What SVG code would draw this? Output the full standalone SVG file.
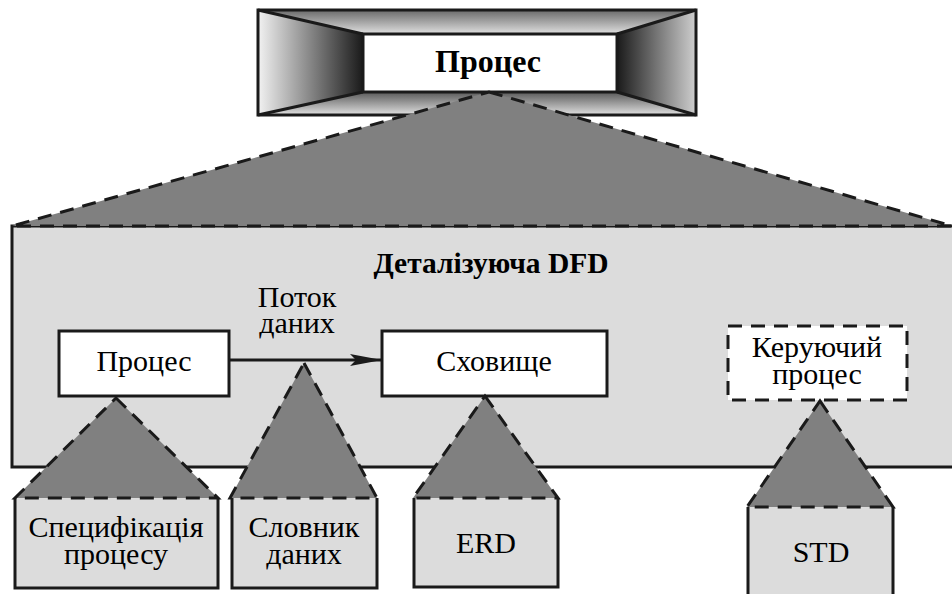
<svg xmlns="http://www.w3.org/2000/svg" width="952" height="594" viewBox="0 0 952 594" font-family="Liberation Serif, Times New Roman, serif">
<style>
  text { font-family: 'Liberation Serif', 'Times New Roman', serif; }
  .t { font-size: 30px; fill: #000; text-anchor: middle; }
  .b { font-weight: bold; fill: #000; text-anchor: middle; }
  .tri { fill: #808080; stroke: #1a1a1a; stroke-width: 3; stroke-dasharray: 14 9; stroke-linejoin: miter; }
  .box { fill: #dcdcdc; stroke: #1a1a1a; stroke-width: 3; }
  .node { fill: #ffffff; stroke: #1a1a1a; stroke-width: 3; }
  .edge { fill: none; stroke: #1a1a1a; stroke-width: 3; }
</style>
<defs>
  <linearGradient id="gL" x1="258" y1="0" x2="363" y2="0" gradientUnits="userSpaceOnUse">
    <stop offset="0" stop-color="#f2f2f2"/><stop offset="1" stop-color="#1a1a1a"/>
  </linearGradient>
  <linearGradient id="gR" x1="617" y1="0" x2="696" y2="0" gradientUnits="userSpaceOnUse">
    <stop offset="0" stop-color="#1a1a1a"/><stop offset="1" stop-color="#cfcfcf"/>
  </linearGradient>
  <linearGradient id="gT" x1="0" y1="10" x2="0" y2="34" gradientUnits="userSpaceOnUse">
    <stop offset="0" stop-color="#6a6a6a"/><stop offset="1" stop-color="#e0e0e0"/>
  </linearGradient>
  <linearGradient id="gB" x1="0" y1="92" x2="0" y2="115" gradientUnits="userSpaceOnUse">
    <stop offset="0" stop-color="#5a5a5a"/><stop offset="1" stop-color="#e0e0e0"/>
  </linearGradient>
  <marker id="arr" markerWidth="32" markerHeight="14" refX="32" refY="7" orient="auto" markerUnits="userSpaceOnUse">
    <path d="M0,1 L32,7 L0,13 L6,7 Z" fill="#1a1a1a"/>
  </marker>
</defs>

<!-- DFD container -->
<g id="dfd">
  <rect x="12" y="226" width="950" height="241" class="box"/>
  <text class="b" x="491" y="273" font-size="29.5">Деталізуюча DFD</text>
</g>

<!-- Top process box -->
<g id="top-process">
  <rect x="258" y="10" width="438" height="105" fill="#888"/>
  <polygon points="258,10 363,34 363,92 258,115" fill="url(#gL)"/>
  <polygon points="696,10 617,34 617,92 696,115" fill="url(#gR)"/>
  <polygon points="258,10 696,10 617,34 363,34" fill="url(#gT)"/>
  <polygon points="363,92 617,92 696,115 258,115" fill="url(#gB)"/>
  <path d="M258,10 L363,34 M696,10 L617,34 M258,115 L363,92 M696,115 L617,92" class="edge" stroke-width="2.5"/>
  <rect x="258" y="10" width="438" height="105" fill="none" stroke="#1a1a1a" stroke-width="3"/>
  <rect x="363" y="34" width="254" height="58" class="node"/>
  <text class="b" x="488" y="72" font-size="32">Процес</text>
</g>

<!-- Decomposition triangle from top process -->
<g id="decomp-top">
  <polygon points="489,92 952,226 12,226" class="tri"/>
</g>

<!-- Inner DFD nodes -->
<g id="process">
  <rect x="59" y="331" width="170" height="65" class="node"/>
  <text class="t" x="144" y="371">Процес</text>
</g>
<g id="store">
  <rect x="382" y="331" width="225" height="65" class="node"/>
  <text class="t" x="494" y="371">Сховище</text>
</g>
<g id="control-process">
  <rect x="728" y="326" width="179" height="74" fill="#fff" stroke="#1a1a1a" stroke-width="3" stroke-dasharray="14 9"/>
  <text class="t" x="817" y="357">Керуючий</text>
  <text class="t" x="817" y="384">процес</text>
</g>

<!-- Connectors -->
<g id="connectors">
  <line x1="229" y1="360" x2="382" y2="360" class="edge" marker-end="url(#arr)"/>
  <text class="t" x="297" y="307">Поток</text>
  <text class="t" x="297" y="333">даних</text>
</g>

<!-- Bottom spec boxes -->
<g id="spec">
  <path d="M15,498 L15,588 L218,588 L218,498 Z" fill="#dcdcdc"/>
  <path d="M15,498 L15,588 L218,588 L218,498" class="edge"/>
  <polygon points="116,398 218,498 15,498" class="tri"/>
  <text class="t" x="116" y="537">Специфікація</text>
  <text class="t" x="116" y="564">процесу</text>
</g>
<g id="dictionary">
  <path d="M232,498 L232,588 L377,588 L377,498 Z" fill="#dcdcdc"/>
  <path d="M232,498 L232,588 L377,588 L377,498" class="edge"/>
  <polygon points="304,363 377,498 230,498" class="tri"/>
  <text class="t" x="304" y="537">Словник</text>
  <text class="t" x="304" y="564">даних</text>
</g>
<g id="erd">
  <path d="M414,498 L414,587 L558,587 L558,498 Z" fill="#dcdcdc"/>
  <path d="M414,498 L414,587 L558,587 L558,498" class="edge"/>
  <polygon points="485,396 558,498 413,498" class="tri"/>
  <text class="t" x="486" y="553">ERD</text>
</g>
<g id="std">
  <path d="M748,507 L748,600 L893,600 L893,507 Z" fill="#dcdcdc"/>
  <path d="M748,507 L748,600 M893,600 L893,507" class="edge"/>
  <polygon points="820,401 893,507 747,507" class="tri"/>
  <text class="t" x="821" y="562">STD</text>
</g>
</svg>
